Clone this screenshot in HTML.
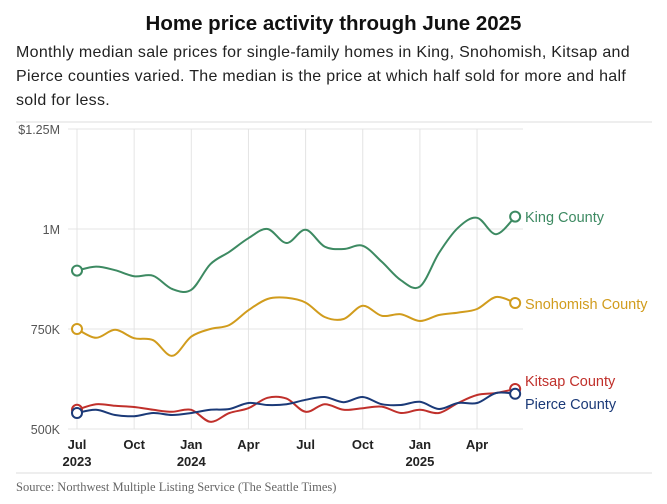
<!DOCTYPE html>
<html><head><meta charset="utf-8"><style>
body{margin:0;background:#fff;width:667px;height:504px;overflow:hidden;font-family:"Liberation Sans",sans-serif}
#title{position:absolute;top:12px;left:0;width:667px;text-align:center;font-weight:bold;font-size:20.5px;color:#111}
#sub{position:absolute;top:41px;left:16px;width:645px;font-size:16px;letter-spacing:0.3px;line-height:24px;color:#222}
#src{position:absolute;top:480px;left:16px;font-family:"Liberation Serif",serif;font-size:12.5px;color:#666}
svg{position:absolute;left:0;top:0}
</style></head><body>
<div id="title">Home price activity through June 2025</div>
<div id="sub">Monthly median sale prices for single-family homes in King, Snohomish, Kitsap and Pierce counties varied. The median is the price at which half sold for more and half sold for less.</div>
<div id="src">Source: Northwest Multiple Listing Service (The Seattle Times)</div>
<svg id="chart" width="667" height="504"></svg>
<script>
const months = ["Jul 2023","Aug","Sep","Oct","Nov","Dec","Jan 2024","Feb","Mar","Apr","May","Jun","Jul","Aug","Sep","Oct","Nov","Dec","Jan 2025","Feb","Mar","Apr","May","Jun 2025"];
const king = [896,906,897,882,883,850,848,912,943,977,1000,965,998,956,950,958,918,872,856,940,1003,1028,987,1031];
const snohomish = [750,728,748,727,722,683,731,750,760,797,825,828,816,780,775,808,783,787,770,785,791,800,830,815];
const kitsap = [548,562,558,555,548,543,548,518,540,552,578,576,543,562,548,552,556,540,548,540,565,585,590,600];
const pierce = [540,548,535,532,540,535,540,548,550,565,560,562,573,580,567,580,562,560,568,550,565,565,590,588];
const yTicks = [500,750,1000,1250];
const yTickLabels = ["500K","750K","1M","$1.25M"];
const xTickIdx = [0,3,6,9,12,15,18,21];
const xTickLabels = [["Jul","2023"],["Oct",""],["Jan","2024"],["Apr",""],["Jul",""],["Oct",""],["Jan","2025"],["Apr",""]];
const seriesNames = ["King County","Snohomish County","Kitsap County","Pierce County"];

const svg=document.getElementById('chart');const NS="http://www.w3.org/2000/svg";
const X=i=>77+i*19.05;const Y=v=>429-(v-500)*0.4;
function mk(t,a,p){const e=document.createElementNS(NS,t);for(const k in a)e.setAttribute(k,a[k]);(p||svg).appendChild(e);return e;}
let l=mk('line',{x1:16,x2:652,y1:122,y2:122,stroke:'#ddd'});


l=mk('line',{x1:16,x2:652,y1:473,y2:473,stroke:'#ddd'});


yTicks.forEach((v,i)=>{
 const g=mk('line',{x1:68,x2:523,y1:Y(v),y2:Y(v),stroke:'#e4e4e4'});
 
 
 const t=mk('text',{x:60,y:Y(v)+5,'text-anchor':'end','font-size':12.5,fill:'#555'});t.textContent=yTickLabels[i];
 
 
});
xTickIdx.forEach((idx,i)=>{
 const g=mk('line',{x1:X(idx),x2:X(idx),y1:129,y2:429,stroke:'#e4e4e4'});
 
 
 xTickLabels[i].forEach((s,j)=>{if(!s)return;
  const t=mk('text',{x:X(idx),y:449+j*17,'text-anchor':'middle','font-size':13,'font-weight':'bold',fill:'#222'});t.textContent=s;
  
  });
});
function path(vals){const p=vals.map((v,i)=>[X(i),Y(v)]);let d=`M${p[0][0]},${p[0][1]}`;
 for(let i=0;i<p.length-1;i++){const p0=p[Math.max(0,i-1)],p1=p[i],p2=p[i+1],p3=p[Math.min(p.length-1,i+2)];
 d+=` C${p1[0]+(p2[0]-p0[0])/6},${p1[1]+(p2[1]-p0[1])/6} ${p2[0]-(p3[0]-p1[0])/6},${p2[1]-(p3[1]-p1[1])/6} ${p2[0]},${p2[1]}`;}return d;}
const all=[king,snohomish,kitsap,pierce];const cols=['#3d8a62','#d19c1d','#c0302b','#1b3a78'];const labY=[217,304,381,404];
const names=['king','snohomish','kitsap','pierce'];
all.forEach((vals,k)=>{
 const p=mk('path',{d:path(vals),fill:'none',stroke:cols[k],'stroke-width':2});
 
 
 [0,vals.length-1].forEach(i=>{const c=mk('circle',{cx:X(i),cy:Y(vals[i]),r:5,fill:'#fff',stroke:cols[k],'stroke-width':2});
  
  });
 const t=mk('text',{x:525,y:labY[k]+5,'font-size':14.5,fill:cols[k]});t.textContent=seriesNames[k];
 
 
});
</script>
</body></html>
